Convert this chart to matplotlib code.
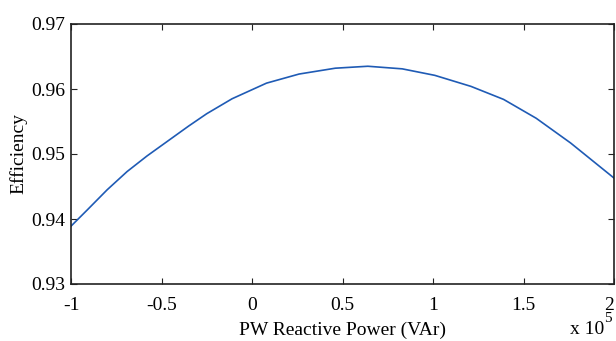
import matplotlib
matplotlib.use('Agg')
import matplotlib.pyplot as plt

plt.rcParams.update({'font.family': 'Liberation Serif', 'font.size': 14.0})

# PW reactive power (x 10^5 VAr) and efficiency
power = [-1.0, -0.91, -0.80, -0.69, -0.58, -0.46, -0.35, -0.25, -0.11, 0.08,
         0.26, 0.46, 0.64, 0.83, 1.01, 1.21, 1.39, 1.57, 1.76, 2.0]
efficiency = [0.9389, 0.9414, 0.9445, 0.9473, 0.9497, 0.9521, 0.9543, 0.9562, 0.9585, 0.9609,
              0.9623, 0.9632, 0.9635, 0.9631, 0.9621, 0.9604, 0.9584, 0.9555, 0.9517, 0.9463]

x_ticks = [-1, -0.5, 0, 0.5, 1, 1.5, 2]
x_tick_labels = ['-1', '-0.5', '0', '0.5', '1', '1.5', '2']
y_ticks = [0.93, 0.94, 0.95, 0.96, 0.97]
y_tick_labels = ['0.93', '0.94', '0.95', '0.96', '0.97']

W, H = 616, 341
fig = plt.figure(figsize=(W / 100, H / 100), dpi=100)
ax = fig.add_axes([71 / W, 1 - 284 / H, 543 / W, 260 / H])

ax.plot(power, efficiency, color='#1f5bb5', linewidth=1.2)

ax.set_xlim(-1, 2)
ax.set_ylim(0.93, 0.97)
ax.set_xticks(x_ticks)
ax.set_xticklabels(x_tick_labels)
ax.set_yticks(y_ticks)
ax.set_yticklabels(y_tick_labels)
ax.tick_params(direction='in', length=4, width=0.8, top=True, right=True, color='#222222')
ax.tick_params(axis='x', pad=9)
ax.tick_params(axis='y', pad=4)
# last x label sits flush with the right edge, like the reference
ax.get_xticklabels()[-1].set_horizontalalignment('right')
for s in ax.spines.values():
    s.set_linewidth(1.2)
    s.set_color('#222222')

ax.set_xlabel('PW Reactive Power (VAr)', labelpad=6)
ax.set_ylabel('Efficiency', labelpad=3)

# exponent marker
fig.text(570 / W, 1 - 329 / H, 'x 10', ha='left', va='center', fontsize=14)
fig.text(604 / W, 1 - 319 / H, '5', ha='left', va='center', fontsize=11)

fig.savefig('out.png', dpi=100)
